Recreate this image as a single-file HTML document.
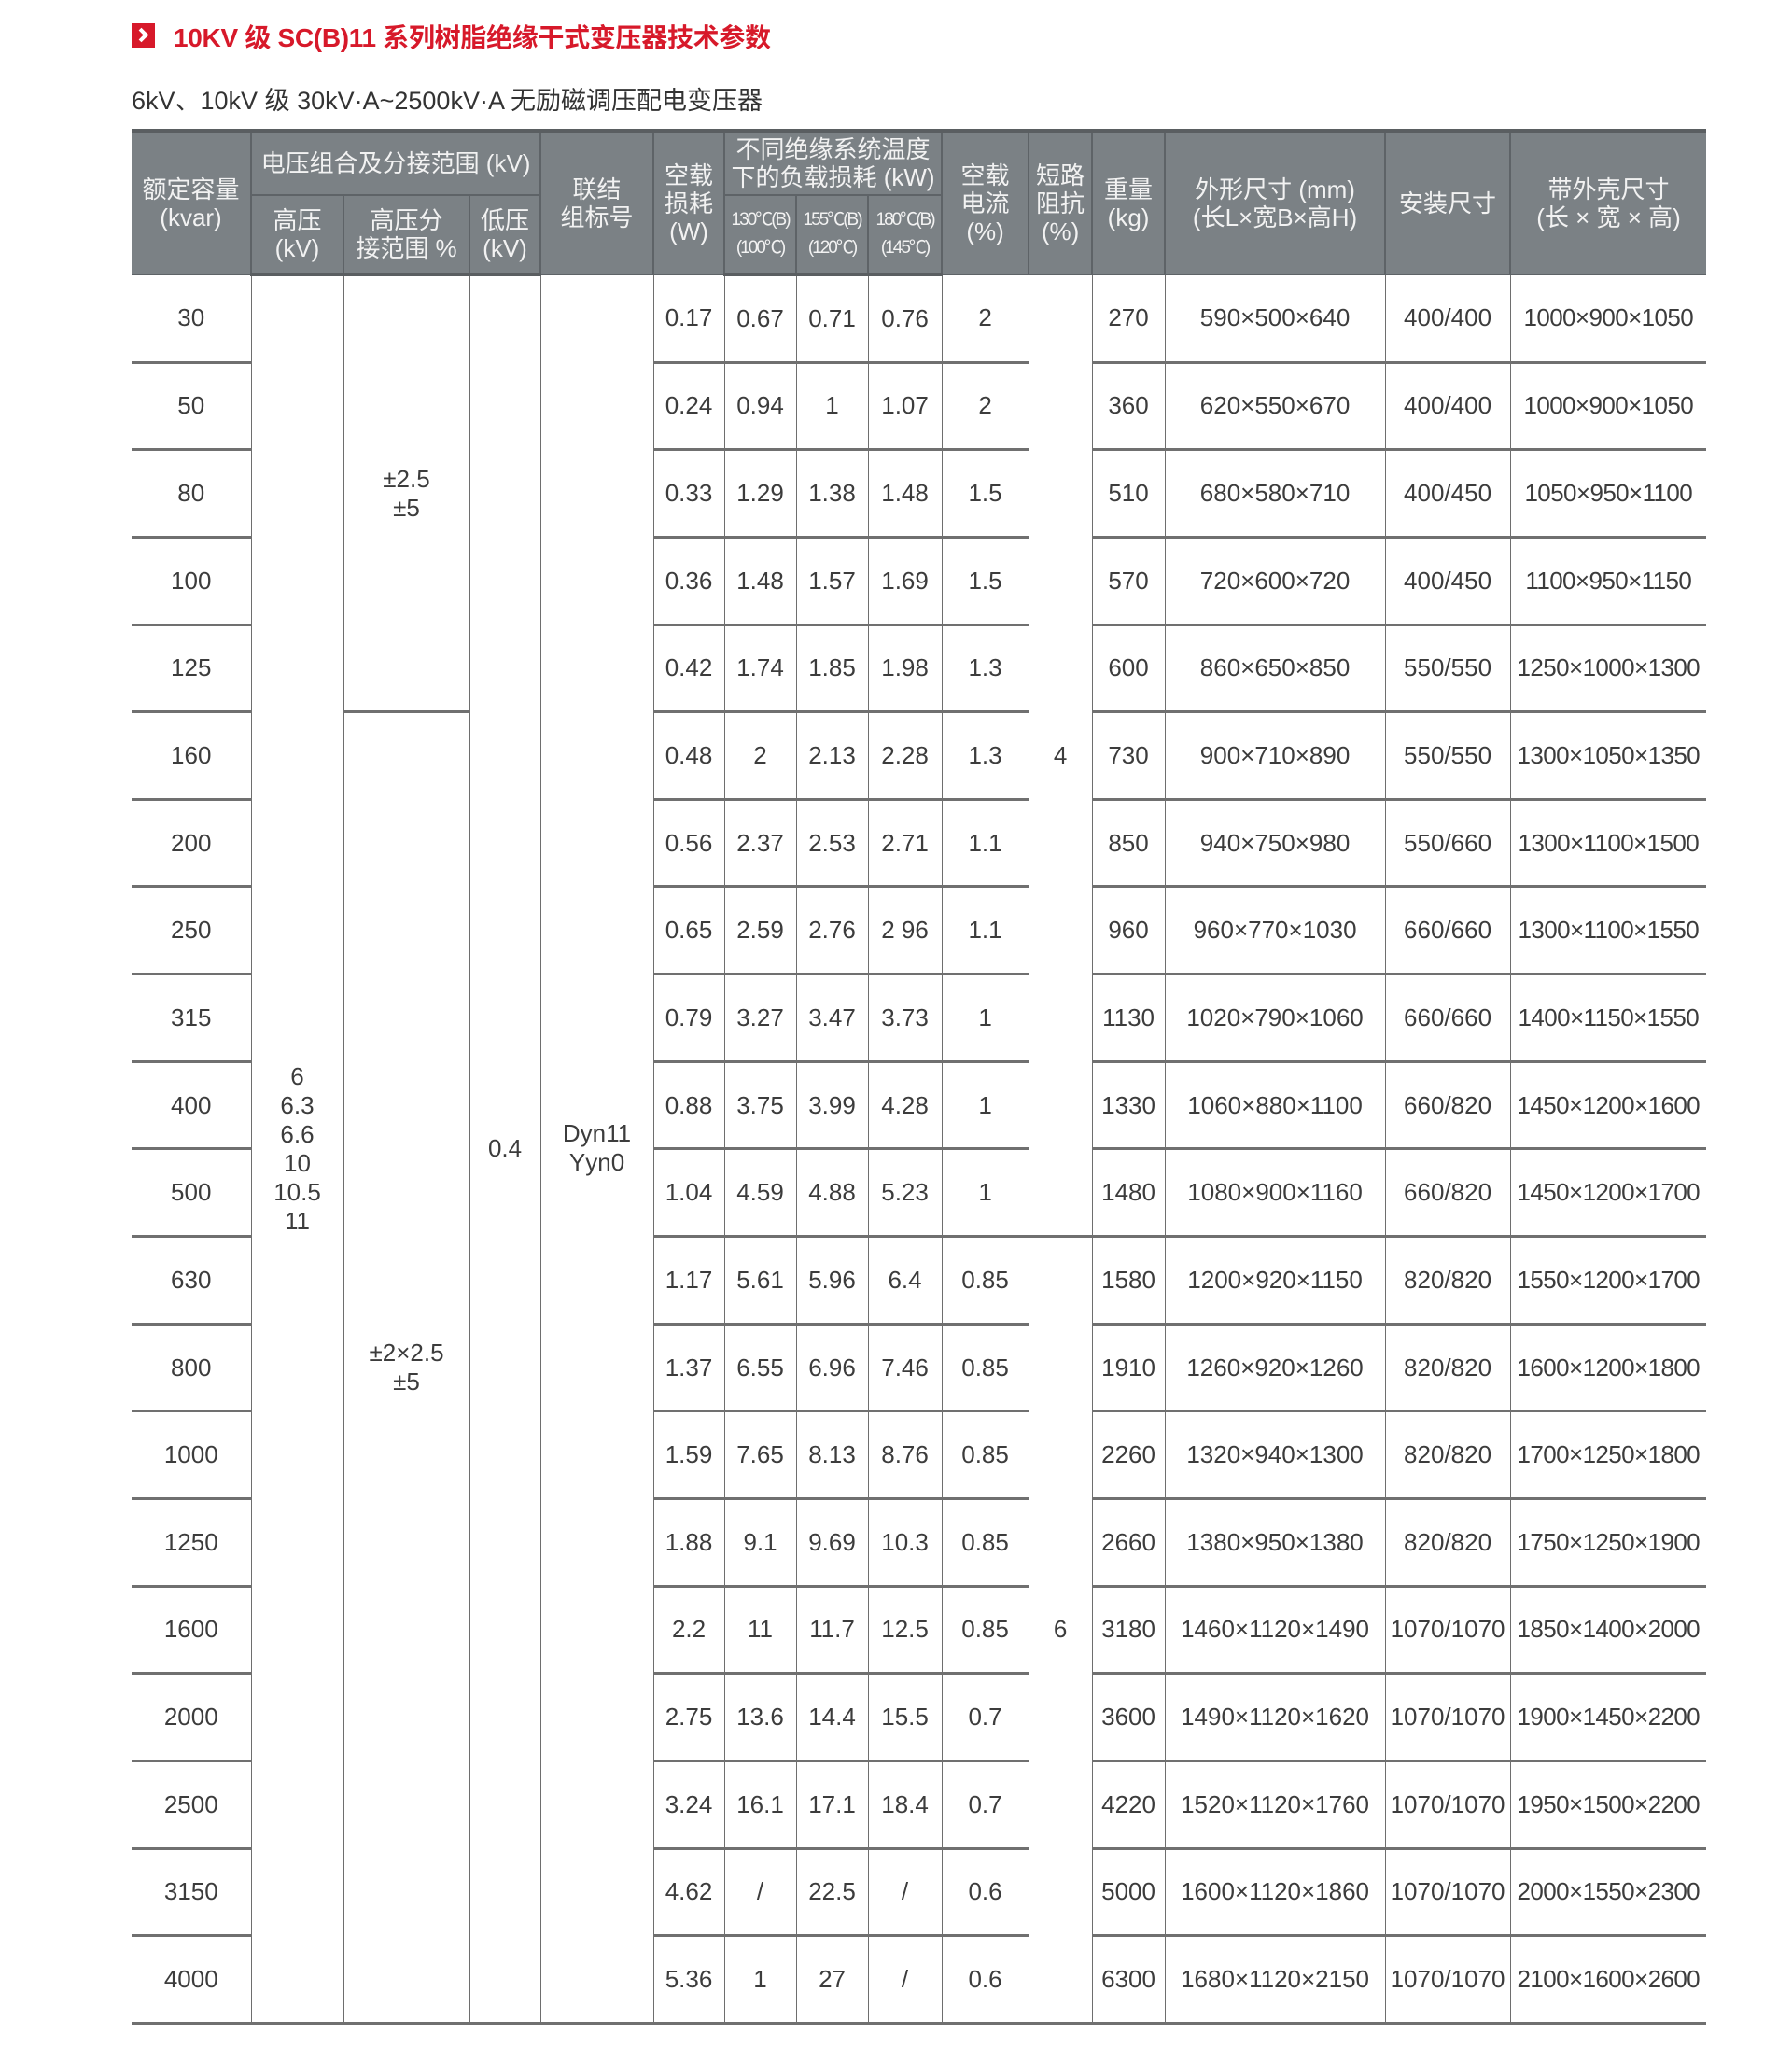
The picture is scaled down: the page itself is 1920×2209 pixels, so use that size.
<!DOCTYPE html>
<html><head><meta charset="utf-8">
<style>
html,body{margin:0;padding:0;background:#fff;}
body{width:1920px;height:2209px;position:relative;overflow:hidden;font-family:"Liberation Sans","Noto Sans CJK SC",sans-serif;}
.icon{position:absolute;left:141px;top:25px;width:25px;height:26px;background:#d7192a;}
.icon:after{content:"";position:absolute;width:7px;height:7px;border-right:4px solid #fff;border-bottom:4px solid #fff;transform:rotate(-45deg);left:5px;top:7px;}
.title{position:absolute;left:186px;top:19px;font-size:28px;font-weight:bold;color:#d7192a;white-space:nowrap;letter-spacing:-0.3px;}
.sub{position:absolute;left:141px;top:86px;font-size:27px;color:#333;white-space:nowrap;letter-spacing:0px;}
table{position:absolute;left:141px;top:138px;border-collapse:collapse;table-layout:fixed;width:1687px;}
td,th{padding:0;text-align:center;vertical-align:middle;overflow:hidden;white-space:nowrap;}
th{background:#7b8185;color:#f2f2f2;font-weight:normal;font-size:26px;line-height:30px;border:2px solid #5e6367;}
thead tr:first-child th{border-top:4px solid #5a5e61;}
thead tr:last-child th{border-bottom:4px solid #5a5e61;}
th.t{font-size:19px;line-height:30px;letter-spacing:-2px;}
td{font-size:26px;color:#3c3c3c;border-left:1.5px solid #6e6e6e;border-right:1.5px solid #6e6e6e;border-bottom:3px solid #707070;height:90.65px;}
td.m{line-height:31px;}
td.n{letter-spacing:-0.6px;}
tbody tr td:first-child{border-left:none;}
tr td:last-child{border-right:none;}
thead th:first-child{border-left:none;}
thead tr:first-child th:last-child{border-right:none;}
</style></head><body>
<div class="icon"></div>
<div class="title">10KV 级 SC(B)11 系列树脂绝缘干式变压器技术参数</div>
<div class="sub">6kV、10kV 级 30kV·A~2500kV·A 无励磁调压配电变压器</div>
<table>
<colgroup>
<col style="width:128px"><col style="width:99px"><col style="width:135px"><col style="width:76px"><col style="width:121px"><col style="width:76px"><col style="width:77px"><col style="width:77px"><col style="width:79px"><col style="width:93px"><col style="width:68px"><col style="width:78px"><col style="width:236px"><col style="width:134px"><col style="width:210px">
</colgroup>
<thead>
<tr style="height:69px">
<th rowspan="2">额定容量<br>(kvar)</th>
<th colspan="3">电压组合及分接范围 (kV)</th>
<th rowspan="2">联结<br>组标号</th>
<th rowspan="2">空载<br>损耗<br>(W)</th>
<th colspan="3">不同绝缘系统温度<br>下的负载损耗 (kW)</th>
<th rowspan="2">空载<br>电流<br>(%)</th>
<th rowspan="2">短路<br>阻抗<br>(%)</th>
<th rowspan="2">重量<br>(kg)</th>
<th rowspan="2">外形尺寸 (mm)<br>(长L×宽B×高H)</th>
<th rowspan="2">安装尺寸</th>
<th rowspan="2">带外壳尺寸<br>(长 × 宽 × 高)</th>
</tr>
<tr style="height:85px">
<th>高压<br>(kV)</th><th>高压分<br>接范围 %</th><th>低压<br>(kV)</th>
<th class="t">130℃(B)<br>(100℃)</th><th class="t">155℃(B)<br>(120℃)</th><th class="t">180℃(B)<br>(145℃)</th>
</tr>
</thead>
<tbody>
<tr><td>30</td><td rowspan="20" class="m">6<br>6.3<br>6.6<br>10<br>10.5<br>11</td><td rowspan="5" class="m">±2.5<br>±5</td><td rowspan="20">0.4</td><td rowspan="20" class="m">Dyn11<br>Yyn0</td><td>0.17</td><td>0.67</td><td>0.71</td><td>0.76</td><td>2</td><td rowspan="11">4</td><td>270</td><td>590×500×640</td><td>400/400</td><td class="n">1000×900×1050</td></tr>
<tr><td>50</td><td>0.24</td><td>0.94</td><td>1</td><td>1.07</td><td>2</td><td>360</td><td>620×550×670</td><td>400/400</td><td class="n">1000×900×1050</td></tr>
<tr><td>80</td><td>0.33</td><td>1.29</td><td>1.38</td><td>1.48</td><td>1.5</td><td>510</td><td>680×580×710</td><td>400/450</td><td class="n">1050×950×1100</td></tr>
<tr><td>100</td><td>0.36</td><td>1.48</td><td>1.57</td><td>1.69</td><td>1.5</td><td>570</td><td>720×600×720</td><td>400/450</td><td class="n">1100×950×1150</td></tr>
<tr><td>125</td><td>0.42</td><td>1.74</td><td>1.85</td><td>1.98</td><td>1.3</td><td>600</td><td>860×650×850</td><td>550/550</td><td class="n">1250×1000×1300</td></tr>
<tr><td>160</td><td rowspan="15" class="m">±2×2.5<br>±5</td><td>0.48</td><td>2</td><td>2.13</td><td>2.28</td><td>1.3</td><td>730</td><td>900×710×890</td><td>550/550</td><td class="n">1300×1050×1350</td></tr>
<tr><td>200</td><td>0.56</td><td>2.37</td><td>2.53</td><td>2.71</td><td>1.1</td><td>850</td><td>940×750×980</td><td>550/660</td><td class="n">1300×1100×1500</td></tr>
<tr><td>250</td><td>0.65</td><td>2.59</td><td>2.76</td><td>2 96</td><td>1.1</td><td>960</td><td>960×770×1030</td><td>660/660</td><td class="n">1300×1100×1550</td></tr>
<tr><td>315</td><td>0.79</td><td>3.27</td><td>3.47</td><td>3.73</td><td>1</td><td>1130</td><td>1020×790×1060</td><td>660/660</td><td class="n">1400×1150×1550</td></tr>
<tr><td>400</td><td>0.88</td><td>3.75</td><td>3.99</td><td>4.28</td><td>1</td><td>1330</td><td>1060×880×1100</td><td>660/820</td><td class="n">1450×1200×1600</td></tr>
<tr><td>500</td><td>1.04</td><td>4.59</td><td>4.88</td><td>5.23</td><td>1</td><td>1480</td><td>1080×900×1160</td><td>660/820</td><td class="n">1450×1200×1700</td></tr>
<tr><td>630</td><td>1.17</td><td>5.61</td><td>5.96</td><td>6.4</td><td>0.85</td><td rowspan="9">6</td><td>1580</td><td>1200×920×1150</td><td>820/820</td><td class="n">1550×1200×1700</td></tr>
<tr><td>800</td><td>1.37</td><td>6.55</td><td>6.96</td><td>7.46</td><td>0.85</td><td>1910</td><td>1260×920×1260</td><td>820/820</td><td class="n">1600×1200×1800</td></tr>
<tr><td>1000</td><td>1.59</td><td>7.65</td><td>8.13</td><td>8.76</td><td>0.85</td><td>2260</td><td>1320×940×1300</td><td>820/820</td><td class="n">1700×1250×1800</td></tr>
<tr><td>1250</td><td>1.88</td><td>9.1</td><td>9.69</td><td>10.3</td><td>0.85</td><td>2660</td><td>1380×950×1380</td><td>820/820</td><td class="n">1750×1250×1900</td></tr>
<tr><td>1600</td><td>2.2</td><td>11</td><td>11.7</td><td>12.5</td><td>0.85</td><td>3180</td><td>1460×1120×1490</td><td>1070/1070</td><td class="n">1850×1400×2000</td></tr>
<tr><td>2000</td><td>2.75</td><td>13.6</td><td>14.4</td><td>15.5</td><td>0.7</td><td>3600</td><td>1490×1120×1620</td><td>1070/1070</td><td class="n">1900×1450×2200</td></tr>
<tr><td>2500</td><td>3.24</td><td>16.1</td><td>17.1</td><td>18.4</td><td>0.7</td><td>4220</td><td>1520×1120×1760</td><td>1070/1070</td><td class="n">1950×1500×2200</td></tr>
<tr><td>3150</td><td>4.62</td><td>/</td><td>22.5</td><td>/</td><td>0.6</td><td>5000</td><td>1600×1120×1860</td><td>1070/1070</td><td class="n">2000×1550×2300</td></tr>
<tr><td>4000</td><td>5.36</td><td>1</td><td>27</td><td>/</td><td>0.6</td><td>6300</td><td>1680×1120×2150</td><td>1070/1070</td><td class="n">2100×1600×2600</td></tr>
</tbody>
</table>
</body></html>
